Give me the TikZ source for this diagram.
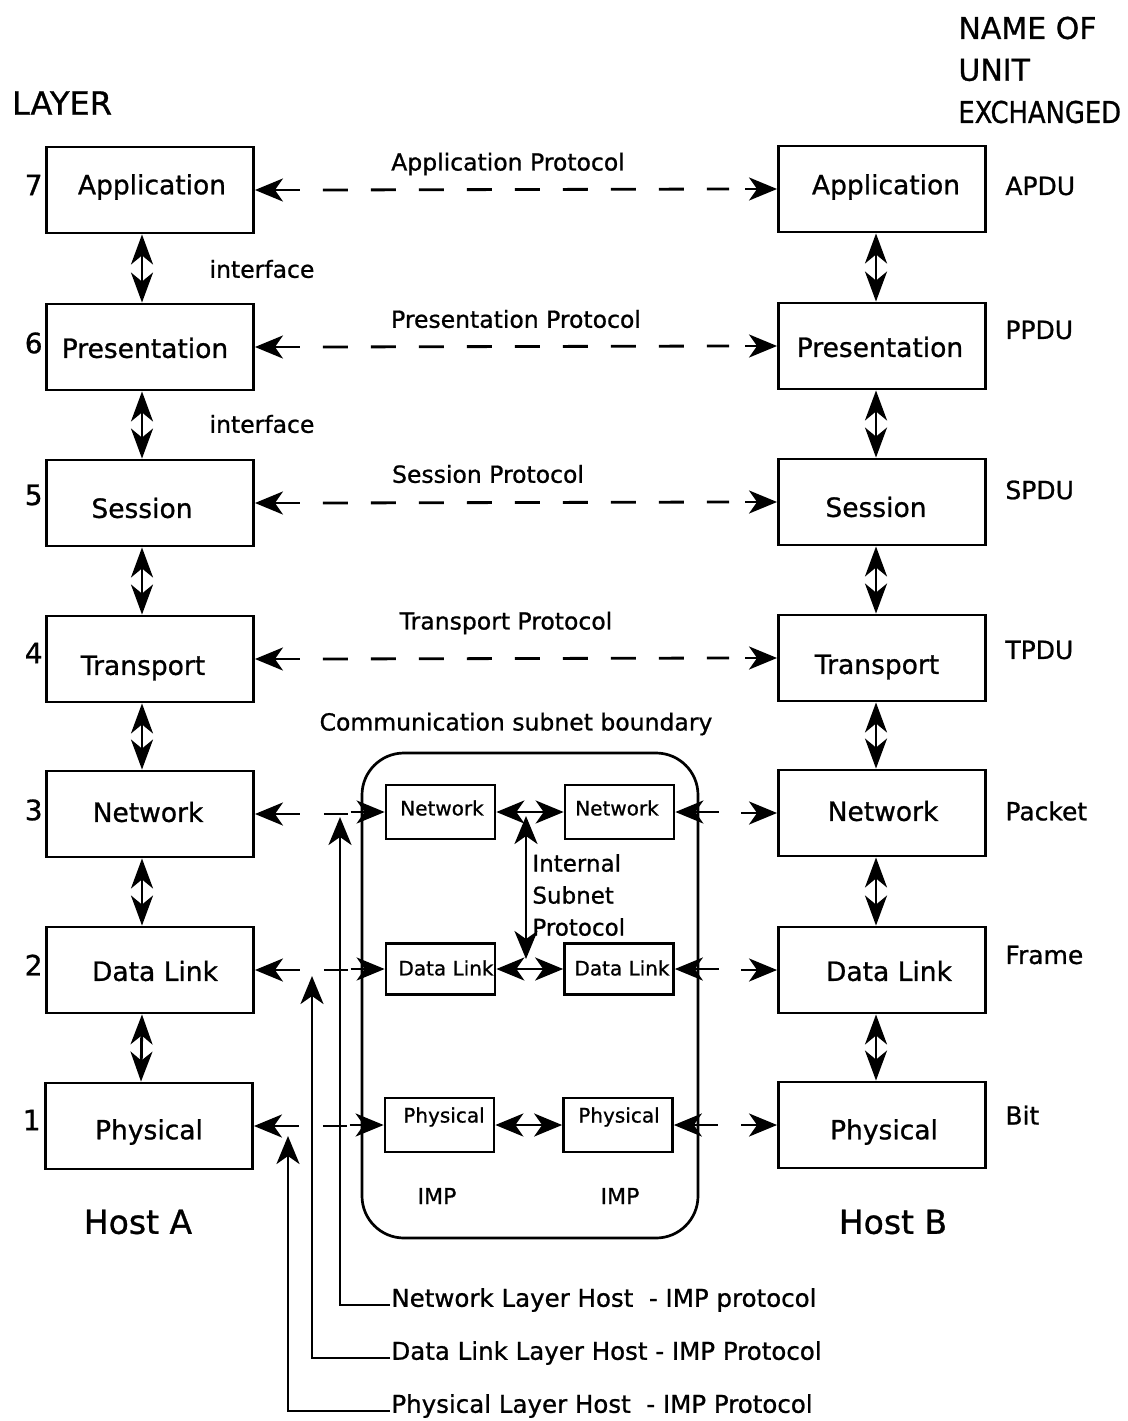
\documentclass[tikz,border=0pt]{standalone}
\usepackage{fontspec}
\usepackage{graphicx}
\setmainfont{DejaVu Sans}[FakeBold=0.9]
\usetikzlibrary{arrows.meta,calc}

\newcommand\fsz[1]{\fontsize{#1}{#1}\selectfont}

% dashed peer protocol line between two host boxes
\newcommand\protoarrow[2]{%
  \draw[<-] (#1.east) -- ++(45,0);
  \draw[dash pattern=on 25pt off 23pt] ($(#1.east)+(68,0)$) -- ($(#2.west)+(-48,0)$);
  \draw[->] ($(#2.west)+(-32,0)$) -- (#2.west);}
% host A to IMP link
\newcommand\hostimpleft[2]{%
  \draw[<-] (#1.east) -- ++(45,0);
  \draw ($(#1.east)+(69,0)$) -- ++(24,0);
  \draw[->] ($(#2.west)+(-34,0)$) -- (#2.west);}
% IMP to host B link
\newcommand\hostimpright[2]{%
  \draw[<-] (#1.east) -- ++(44,0);
  \draw[->] ($(#2.west)+(-36,0)$) -- (#2.west);}

\begin{document}
\begin{tikzpicture}[x=1pt,y=-1pt,
  line width=2.8pt,
  >={Stealth[length=28pt,width=23pt,inset=8pt]},
  layerbox/.style={draw, line width=2.9pt, minimum width=207pt, minimum height=86pt, inner sep=0pt},
  impbox/.style={draw, line width=2.7pt, minimum width=109pt, minimum height=54pt, inner sep=0pt},
  boxtext/.style={font={\fsz{26.5}}, inner sep=0pt},
  smalltext/.style={font={\fsz{20}}, inner sep=0pt},
  numtext/.style={font={\fsz{28}}, inner sep=0pt, anchor=east},
  prototext/.style={font={\fsz{23.5}}, inner sep=0pt},
  unittext/.style={font={\fsz{25}}, inner sep=0pt, anchor=west},
  headtext/.style={font={\fsz{30}}, inner sep=0pt},
  hosttext/.style={font={\fsz{33}}, inner sep=0pt},
  legendtext/.style={font={\fsz{24.5}}, inner sep=0pt, anchor=west},
  vstack/.style={<->, >={Stealth[length=30pt,width=22pt,inset=9pt]}}
]
\useasboundingbox (0,0) rectangle (1127,1421);

% ---------- headings ----------
\node[headtext, font={\fsz{32}}] (hlayer) at (62,103) {LAYER};
\node[headtext, anchor=west] (hname1) at (957,28) {NAME OF};
\node[headtext, anchor=west] (hname2) at (957,70) {UNIT};
\node[headtext, anchor=west] (hname3) at (957,112) {\scalebox{0.86}[1]{EXCHANGED}};

% ---------- host A stack ----------
\node[layerbox] (a7) at (150,190) {};
\node[layerbox] (a6) at (150,347) {};
\node[layerbox] (a5) at (150,503) {};
\node[layerbox] (a4) at (150,659) {};
\node[layerbox] (a3) at (150,814) {};
\node[layerbox] (a2) at (150,970) {};
\node[layerbox] (a1) at (149,1126) {};

\node[boxtext] (ta7) at (152,187) {Application};
\node[boxtext] (ta6) at (145,348) {Presentation};
\node[boxtext] (ta5) at (142,508) {Session};
\node[boxtext] (ta4) at (143,668) {Transport};
\node[boxtext] (ta3) at (148,812) {Network};
\node[boxtext] (ta2) at (155,971) {Data Link};
\node[boxtext] (ta1) at (149,1132) {Physical};

% ---------- host B stack ----------
\node[layerbox] (b7) at (882,189) {};
\node[layerbox] (b6) at (882,346) {};
\node[layerbox] (b5) at (882,502) {};
\node[layerbox] (b4) at (882,658) {};
\node[layerbox] (b3) at (882,813) {};
\node[layerbox] (b2) at (882,970) {};
\node[layerbox] (b1) at (882,1125) {};

\node[boxtext] (tb7) at (886,187) {Application};
\node[boxtext] (tb6) at (880,347) {Presentation};
\node[boxtext] (tb5) at (876,507) {Session};
\node[boxtext] (tb4) at (877,667) {Transport};
\node[boxtext] (tb3) at (883,811) {Network};
\node[boxtext] (tb2) at (889,971) {Data Link};
\node[boxtext] (tb1) at (884,1132) {Physical};

% ---------- layer numbers ----------
\node[numtext] (n7) at (44,185) {7};
\node[numtext] (n6) at (44,343) {6};
\node[numtext] (n5) at (44,495) {5};
\node[numtext] (n4) at (44,653) {4};
\node[numtext] (n3) at (44,810) {3};
\node[numtext] (n2) at (44,965) {2};
\node[numtext] (n1) at (42,1120) {1};

% ---------- unit names ----------
\node[unittext] (u7) at (1004,186) {APDU};
\node[unittext] (u6) at (1004,330) {PPDU};
\node[unittext] (u5) at (1004,490) {SPDU};
\node[unittext] (u4) at (1004,650) {TPDU};
\node[unittext] (u3) at (1004,811) {Packet};
\node[unittext] (u2) at (1004,955) {Frame};
\node[unittext] (u1) at (1004,1115) {Bit};

% ---------- interfaces between adjacent layers ----------
\foreach \u/\l in {7/6,6/5,5/4,4/3,3/2,2/1}{
  \draw[vstack] ([xshift=-8pt]a\u.south) -- ([xshift=-8pt]a\l.north);
  \draw[vstack] ([xshift=-6pt]b\u.south) -- ([xshift=-6pt]b\l.north);
}
\node[prototext] (if1) at (262,269) {interface};
\node[prototext] (if2) at (262,424) {interface};

% ---------- peer protocols ----------
\protoarrow{a7}{b7}
\protoarrow{a6}{b6}
\protoarrow{a5}{b5}
\protoarrow{a4}{b4}
\node[prototext] (p7) at (508,164) {Application Protocol};
\node[prototext] (p6) at (516,319) {Presentation Protocol};
\node[prototext] (p5) at (488,474) {Session Protocol};
\node[prototext] (p4) at (506,623) {Transport Protocol};

% ---------- communication subnet ----------
\node[prototext] (subcap) at (516,724) {Communication subnet boundary};
\node[draw, line width=2.7pt, rounded corners=42pt, minimum width=336pt,
      minimum height=485pt, inner sep=0pt] (subnet) at (530,995.5) {};

\node[impbox] (i1n) at (440.5,812) {};
\node[impbox] (i2n) at (619.5,812) {};
\node[impbox, minimum height=51pt] (i1d) at (440.5,969) {};
\node[impbox, minimum height=51pt] (i2d) at (619,969) {};
\node[impbox] (i1p) at (439.5,1125) {};
\node[impbox] (i2p) at (618,1125) {};

\node[smalltext] (ti1n) at (442,808) {Network};
\node[smalltext] (ti2n) at (617,808) {Network};
\node[smalltext] (ti1d) at (446,968) {Data Link};
\node[smalltext] (ti2d) at (622,968) {Data Link};
\node[smalltext] (ti1p) at (444,1117) {Physical};
\node[smalltext] (ti2p) at (619,1117) {Physical};

\node[font={\fsz{22}}, inner sep=0pt] (imp1) at (437,1196) {IMP};
\node[font={\fsz{22}}, inner sep=0pt] (imp2) at (620,1196) {IMP};

% IMP to IMP links
\draw[<->] (i1n.east) -- (i2n.west);
\draw[<->] (i1d.east) -- (i2d.west);
\draw[<->] (i1p.east) -- (i2p.west);
\coordinate (isp1) at (526,816);
\coordinate (isp2) at (526,959);
\draw[<->] (isp1) -- (isp2);
\node[font={\fontsize{23}{32}\selectfont}, inner sep=0pt, anchor=west, align=left]
      (isp) at (531,895) {Internal\\Subnet\\Protocol};

% host to IMP links
\hostimpleft{a3}{i1n}
\hostimpleft{a2}{i1d}
\hostimpleft{a1}{i1p}
\hostimpright{i2n}{b3}
\hostimpright{i2d}{b2}
\hostimpright{i2p}{b1}

% ---------- host names ----------
\node[hosttext] (hosta) at (138,1222) {Host A};
\node[hosttext] (hostb) at (893,1222) {Host B};

% ---------- host - IMP protocol legend ----------
\node[legendtext] (lnet) at (390,1300) {Network Layer Host\ \ - IMP protocol};
\node[legendtext] (ldl) at (390,1353) {Data Link Layer Host - IMP Protocol};
\node[legendtext] (lph) at (390,1406) {Physical Layer Host\ \ - IMP Protocol};
\coordinate (tnet) at (340,817);
\coordinate (tdl) at (312,976);
\coordinate (tph) at (288,1136);
\draw[->] ($(lnet.west)+(0,5)$) -| (tnet);
\draw[->] ($(ldl.west)+(0,5)$) -| (tdl);
\draw[->] ($(lph.west)+(0,5)$) -| (tph);
\end{tikzpicture}
\end{document}
